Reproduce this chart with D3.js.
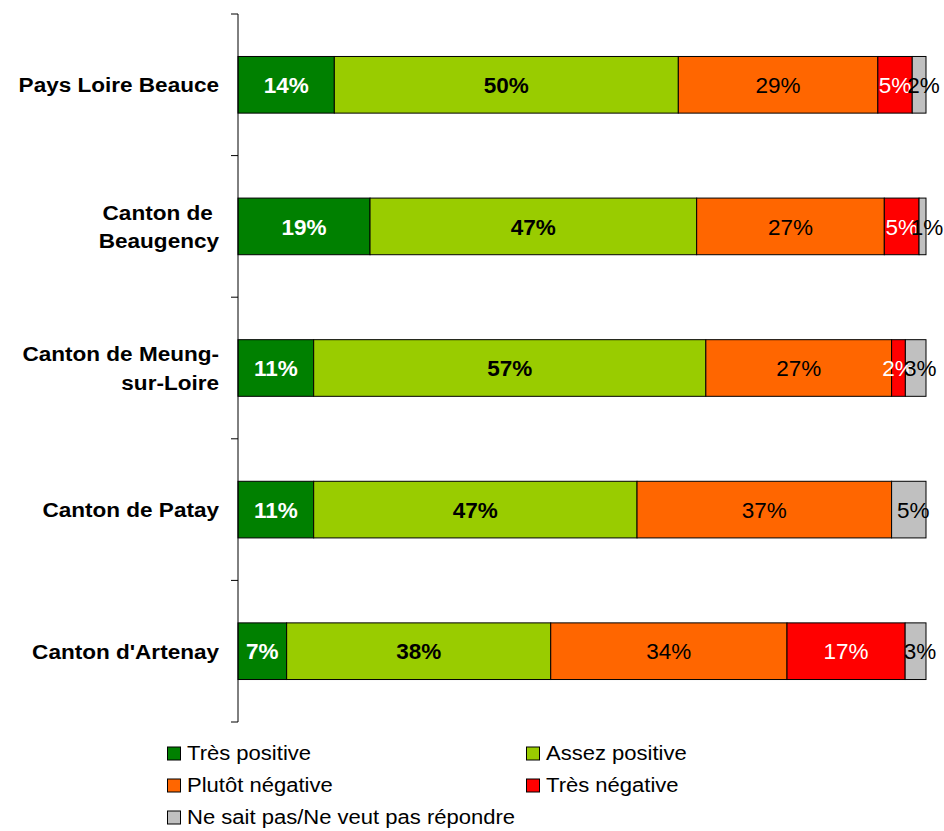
<!DOCTYPE html>
<html>
<head>
<meta charset="utf-8">
<script src="https://cdn.jsdelivr.net/npm/d3@7"></script>
<style>
  html, body { margin: 0; padding: 0; background: #fff; }
  svg { display: block; font-family: "Liberation Sans", Arial, sans-serif; }
</style>
</head>
<body>
<svg id="chart" width="944" height="831"></svg>
<script>
// Areas surveyed, top to bottom (label lines split as displayed)
const categories = [
  "Pays Loire Beauce",
  "Canton de Beaugency",
  "Canton de Meung-sur-Loire",
  "Canton de Patay",
  "Canton d'Artenay"
];
const categoryLines = [
  ["Pays Loire Beauce"],
  ["Canton de ", "Beaugency"],
  ["Canton de Meung-", "sur-Loire"],
  ["Canton de Patay"],
  ["Canton d'Artenay"]
];

// Answer options, in stacking order
const seriesNames = [
  "Très positive",
  "Assez positive",
  "Plutôt négative",
  "Très négative",
  "Ne sait pas/Ne veut pas répondre"
];

// Percentages per area, one array per answer option
const tresPositive   = [14, 19, 11, 11, 7];
const assezPositive  = [50, 47, 57, 47, 38];
const plutotNegative = [29, 27, 27, 37, 34];
const tresNegative   = [5, 5, 2, 0, 17];
const neSaitPas      = [2, 1, 3, 5, 3];

const seriesValues = [tresPositive, assezPositive, plutotNegative, tresNegative, neSaitPas];

const colors = ["#008000", "#99CC00", "#FF6600", "#FF0000", "#C0C0C0"];
const labelColors = ["#fff", "#000", "#000", "#fff", "#000"];
const labelWeights = ["bold", "bold", "normal", "normal", "normal"];
// the last, narrow segment gets its label nudged outward
const labelNudge = ["0em", "0em", "0em", "0em", "0.2em"];

// Build rows for d3.stack
const rows = categories.map((c, i) => {
  const r = { category: c };
  seriesNames.forEach((s, k) => { r[s] = seriesValues[k][i]; });
  return r;
});

// 100% stacked layout
const stacked = d3.stack()
  .keys(seriesNames)
  .offset(d3.stackOffsetExpand)(rows);

const svg = d3.select("#chart");
const plot = { left: 238, right: 926, top: 14, bottom: 722 };

const x = d3.scaleLinear().domain([0, 1]).range([plot.left, plot.right]);
const y = d3.scaleBand()
  .domain(categories)
  .range([plot.top, plot.bottom])
  .paddingInner(0.6)
  .paddingOuter(0.3);

// Bars
const layers = svg.append("g").selectAll("g")
  .data(stacked)
  .join("g")
  .attr("fill", (d, i) => colors[i]);

layers.selectAll("rect")
  .data(d => d.filter(p => p[1] - p[0] > 0))
  .join("rect")
  .attr("x", p => x(p[0]))
  .attr("width", p => x(p[1]) - x(p[0]))
  .attr("y", p => y(p.data.category))
  .attr("height", y.bandwidth())
  .attr("stroke", "#000")
  .attr("stroke-width", 1);

// Value labels, centred in each segment
stacked.forEach((layer, k) => {
  svg.append("g").selectAll("text")
    .data(layer.filter(p => p.data[seriesNames[k]] > 0))
    .join("text")
    .attr("x", p => (x(p[0]) + x(p[1])) / 2)
    .attr("y", p => y(p.data.category) + y.bandwidth() / 2)
    .attr("dx", labelNudge[k])
    .attr("dy", "0.36em")
    .attr("text-anchor", "middle")
    .attr("font-size", 22.5)
    .attr("font-weight", labelWeights[k])
    .attr("fill", labelColors[k])
    .text(p => p.data[seriesNames[k]] + "%");
});

// Category axis: line with ticks on band boundaries
const axisG = svg.append("g");
axisG.append("line")
  .attr("x1", plot.left).attr("x2", plot.left)
  .attr("y1", plot.top).attr("y2", plot.bottom)
  .attr("stroke", "#000").attr("stroke-width", 1);
const boundaries = d3.range(categories.length + 1)
  .map(i => plot.top + i * (plot.bottom - plot.top) / categories.length);
axisG.selectAll("line.tick")
  .data(boundaries)
  .join("line")
  .attr("class", "tick")
  .attr("x1", plot.left - 7).attr("x2", plot.left)
  .attr("y1", d => d).attr("y2", d => d)
  .attr("stroke", "#000").attr("stroke-width", 1);

// Category labels (slightly widened glyphs)
const labelStretch = 1.1;
categoryLines.forEach((lines, i) => {
  const cy = y(categories[i]) + y.bandwidth() / 2;
  const t = svg.append("text")
    .attr("transform", `translate(219,${cy}) scale(${labelStretch},1)`)
    .attr("text-anchor", "end")
    .attr("font-size", 20.5)
    .attr("font-weight", "bold")
    .attr("fill", "#000")
    .style("white-space", "pre");
  const lh = 28.5;
  lines.forEach((ln, j) => {
    t.append("tspan")
      .attr("x", 0)
      .attr("y", (j - (lines.length - 1) / 2) * lh)
      .attr("dy", "0.36em")
      .text(ln);
  });
});

// Legend
const legendPos = [
  [167, 760], [526, 760],
  [167, 792], [526, 792],
  [167, 824]
];
const legend = svg.append("g");
seriesNames.forEach((s, k) => {
  const [lx, ly] = legendPos[k];
  legend.append("rect")
    .attr("x", lx + 0.5).attr("y", ly - 13)
    .attr("width", 13).attr("height", 13)
    .attr("fill", colors[k])
    .attr("stroke", "#000").attr("stroke-width", 1);
  legend.append("text")
    .attr("transform", `translate(${lx + 20},${ly}) scale(1.13,1)`)
    .attr("font-size", 19.5)
    .attr("fill", "#000")
    .text(s);
});
</script>
</body>
</html>
